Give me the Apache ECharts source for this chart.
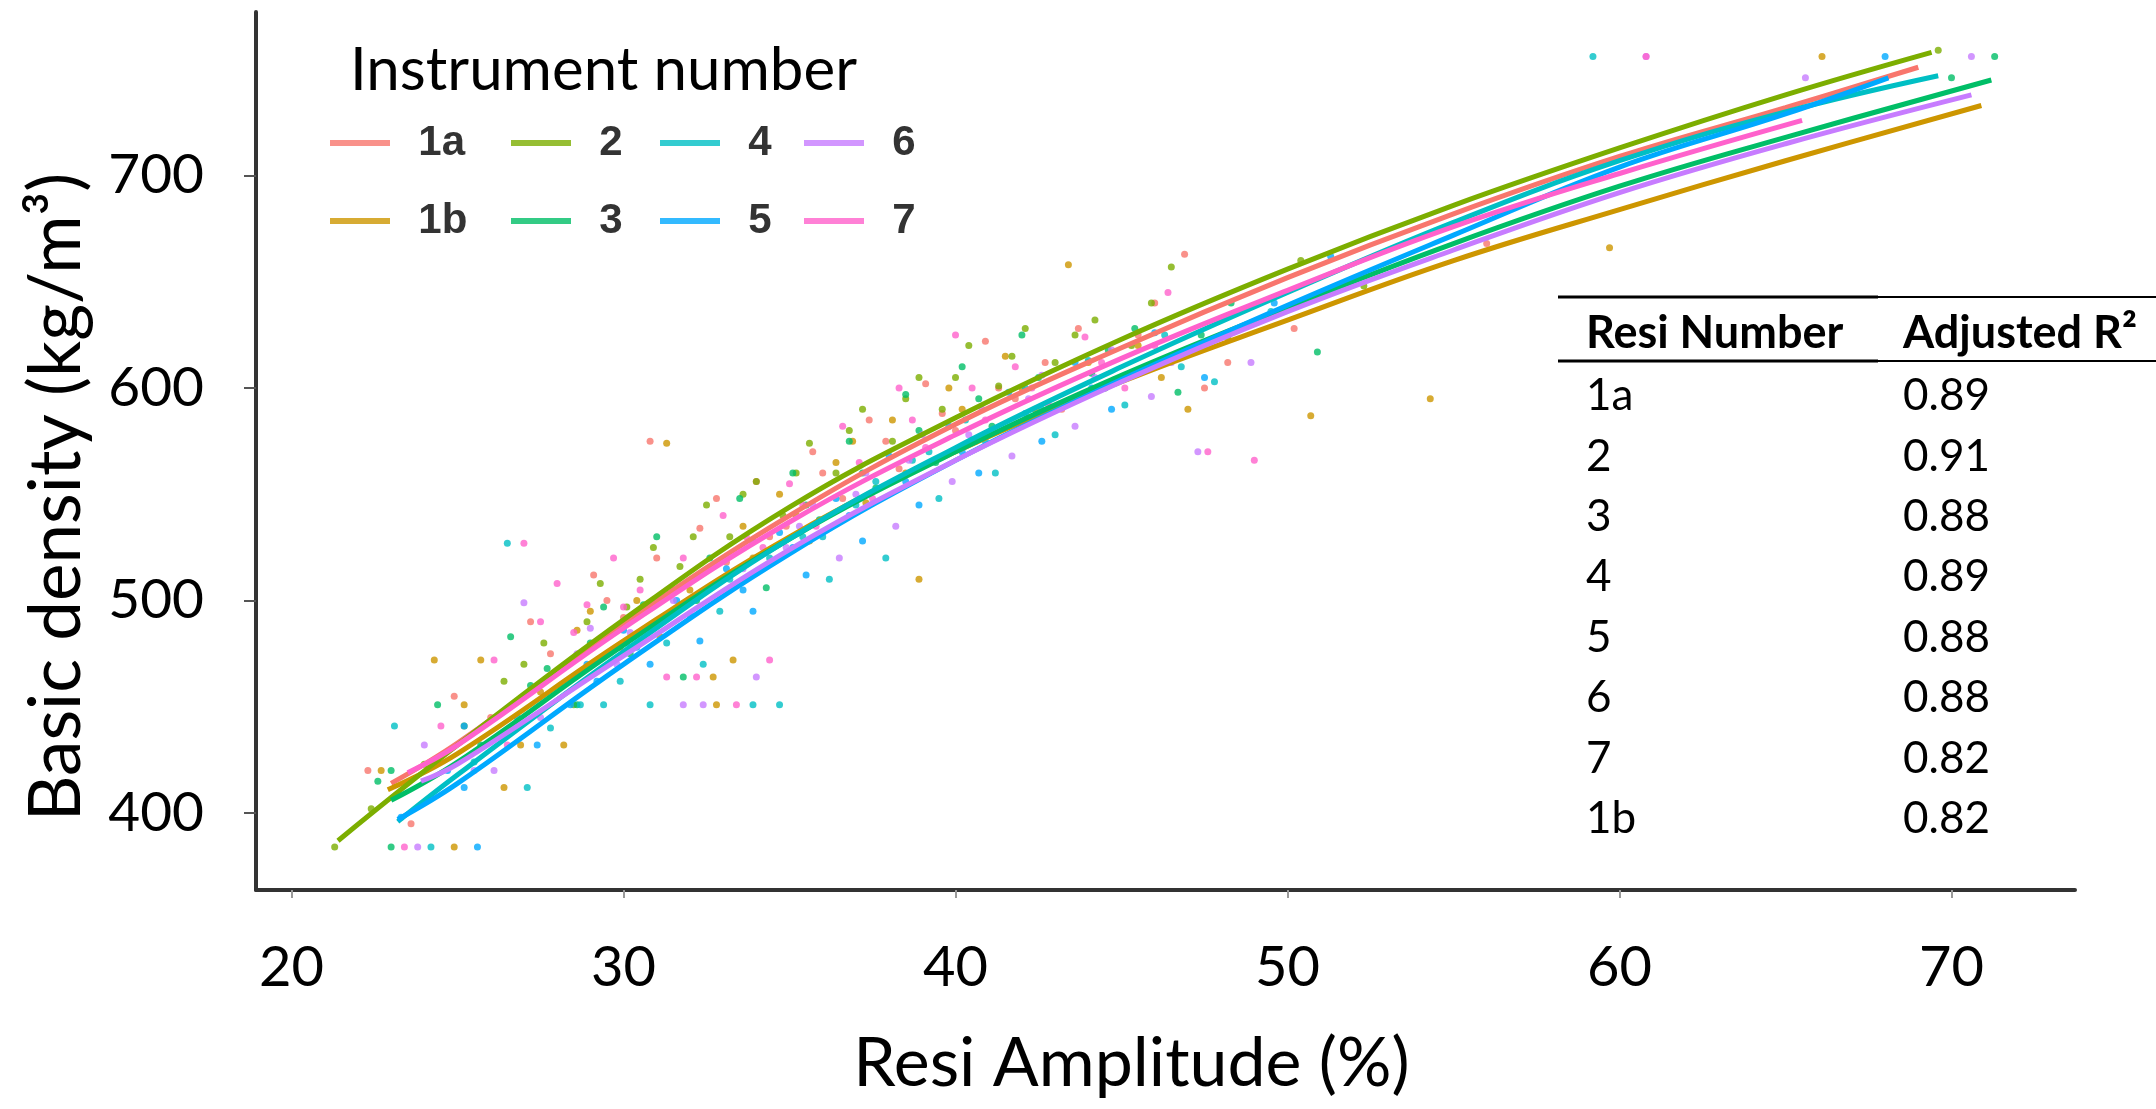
<!DOCTYPE html>
<html><head><meta charset="utf-8">
<script src="https://cdn.jsdelivr.net/npm/echarts@6/dist/echarts.min.js"></script>
<style>html,body{margin:0;padding:0;background:#fff}#c{width:2156px;height:1109px}</style>
</head><body><div id="c"></div>
<script>
// ---------- data ----------
const instruments = ['1a', '1b', '2', '3', '4', '5', '6', '7'];
const xTicks = [20, 30, 40, 50, 60, 70];
const yTicks = [400, 500, 600, 700];

// fitted curves (Resi amplitude %, basic density kg/m3)
const fit_1a = [[23.0,414],[25,433],[30,489],[35,540],[40,583],[45,619],[50,652],[55,682],[60,709],[65,732],[69.0,751]];
const fit_1b = [[22.9,411],[25,428],[30,481],[35,530],[40,570],[45,603],[50,632],[55,660],[60,684],[65,707],[70.9,733]];
const fit_2  = [[21.4,387],[25,432],[30,491],[35,544],[40,586],[45,623],[50,656],[55,686],[60,713],[65,738],[69.4,758]];
const fit_3  = [[23.0,406],[25,424],[30,479],[35,529],[40,570],[45,606],[50,638],[55,668],[60,695],[65,718],[71.2,745]];
const fit_4  = [[23.2,396],[25,418],[30,476],[35,529],[40,572],[45,610],[50,645],[55,678],[60,707],[65,730],[69.6,747]];
const fit_5  = [[23.2,397],[25,414],[30,470],[35,522],[40,566],[45,604],[50,639],[55,672],[60,704],[65,729],[68.1,746]];
const fit_6  = [[23.9,415],[25,423],[30,474],[35,524],[40,566],[45,603],[50,636],[55,665],[60,692],[65,715],[70.6,738]];
const fit_7  = [[23.5,419],[25,432],[30,487],[35,537],[40,578],[45,614],[50,646],[55,676],[60,701],[65.5,726]];

// observations
const pts_1a = [[22.3,420],[23.6,395],[24.9,455],[26.0,445],[27.2,490],[27.8,475],[28.3,470],[29.1,512],[29.5,500],[30.0,492],[30.8,575],[31.0,520],[31.5,505],[32.3,534],[32.8,548],[33.1,518],[34.0,556],[34.4,530],[34.9,535],[35.7,570],[36.0,560],[36.6,548],[37.4,585],[37.9,575],[38.3,562],[39.1,602],[39.6,588],[40.0,580],[40.9,622],[41.3,600],[41.8,595],[42.7,612],[43.2,590],[43.7,628],[44.8,604],[45.5,625],[46.0,640],[46.9,663],[47.5,600],[48.2,612],[50.2,628],[56.0,668]];
const pts_1b = [[22.7,420],[24.3,472],[24.9,384],[25.2,451],[25.7,472],[26.4,412],[26.9,432],[27.5,457],[28.2,432],[28.6,486],[29.0,495],[29.9,478],[30.4,500],[31.1,483],[31.3,574],[32.0,505],[32.7,464],[32.8,451],[33.3,472],[33.6,535],[33.9,520],[34.7,550],[35.2,540],[35.6,528],[36.4,565],[36.9,575],[37.3,546],[38.1,585],[38.5,560],[38.9,510],[39.8,600],[40.2,590],[40.6,575],[41.5,615],[42.0,600],[42.4,590],[43.4,658],[44.0,612],[44.5,600],[45.5,620],[46.2,605],[47.0,590],[50.7,587],[54.3,595],[59.7,666],[66.1,756]];
const pts_2  = [[21.3,384],[22.4,402],[24.0,423],[25.2,441],[26.4,462],[27.0,470],[27.6,480],[28.5,451],[28.9,490],[29.3,508],[30.1,497],[30.5,510],[30.9,525],[31.7,516],[32.1,530],[32.5,545],[33.2,530],[33.6,550],[34.0,556],[34.8,540],[35.2,560],[35.6,574],[36.4,560],[36.8,580],[37.2,590],[38.1,575],[38.5,595],[38.9,605],[39.6,590],[40.0,605],[40.4,620],[41.3,601],[41.7,615],[42.1,628],[43.0,612],[43.6,625],[44.2,632],[45.3,620],[45.9,640],[46.5,657],[48.2,624],[50.4,660],[52.3,648],[69.6,759]];
const pts_3  = [[22.6,415],[23.0,384],[23.0,420],[24.4,451],[25.7,432],[26.6,483],[27.2,460],[27.7,468],[28.6,451],[29.0,480],[29.4,497],[30.2,475],[30.6,498],[31.0,530],[31.8,464],[32.2,500],[32.6,520],[33.5,548],[33.9,528],[34.3,506],[35.1,560],[35.5,545],[35.9,538],[36.8,575],[37.2,560],[37.6,553],[38.5,597],[38.9,580],[39.4,565],[40.2,610],[40.7,595],[41.1,582],[42.0,625],[42.5,605],[43.0,590],[44.1,607],[44.6,618],[45.4,628],[46.7,598],[47.4,625],[48.3,640],[50.9,617],[70.0,746],[71.3,756]];
const pts_4  = [[23.1,441],[24.2,384],[25.5,424],[26.5,527],[27.1,412],[27.8,440],[28.7,451],[29.4,451],[29.9,462],[30.2,478],[30.8,451],[31.3,480],[31.6,495],[32.4,470],[32.9,495],[33.2,510],[33.9,451],[34.4,520],[34.7,451],[35.4,530],[36.0,530],[36.2,510],[37.0,545],[37.6,556],[37.9,520],[38.7,566],[39.2,570],[39.5,548],[40.3,585],[40.9,575],[41.2,560],[42.1,600],[42.6,590],[43.0,578],[44.0,613],[44.5,600],[45.1,592],[46.3,625],[46.8,610],[47.8,603],[49.5,636],[59.2,756]];
const pts_5  = [[23.3,398],[24.7,420],[25.2,441],[25.2,412],[25.6,384],[26.8,445],[27.4,432],[28.4,451],[28.9,470],[29.2,462],[30.0,486],[30.4,478],[30.8,470],[31.6,500],[32.0,493],[32.3,481],[33.1,515],[33.6,505],[33.9,495],[34.7,532],[35.1,525],[35.5,512],[36.4,548],[36.8,540],[37.2,528],[38.0,568],[38.5,556],[38.9,545],[39.8,582],[40.2,570],[40.7,560],[41.6,598],[42.1,588],[42.6,575],[43.6,612],[44.1,600],[44.7,590],[46.0,626],[46.6,615],[47.5,605],[49.6,640],[51.3,662],[68.0,756]];
const pts_6  = [[23.8,384],[24.0,432],[25.5,420],[26.1,420],[27.0,499],[27.5,445],[28.1,460],[28.6,475],[29.0,487],[29.8,470],[30.2,485],[30.6,495],[31.5,500],[31.8,451],[32.4,451],[33.2,505],[33.6,515],[34.0,464],[34.9,525],[35.3,535],[35.7,545],[36.5,520],[37.0,550],[37.3,560],[38.2,535],[38.6,566],[39.0,578],[39.9,556],[40.4,578],[40.8,590],[41.7,568],[42.2,595],[42.6,606],[43.6,582],[44.2,605],[44.7,618],[45.9,596],[46.5,612],[47.3,570],[48.9,612],[60.8,756],[65.6,746],[70.6,756]];
const pts_7  = [[23.4,384],[24.5,441],[26.1,472],[26.5,432],[27.0,527],[27.5,490],[28.0,508],[28.5,485],[28.9,498],[29.7,520],[30.0,497],[30.5,505],[31.3,464],[31.8,520],[32.2,464],[33.0,540],[33.4,451],[33.7,530],[34.2,525],[34.4,472],[35.0,555],[35.4,545],[35.8,535],[36.6,582],[37.1,565],[37.5,548],[38.3,600],[38.7,585],[39.1,572],[40.0,625],[40.5,600],[40.9,585],[41.8,610],[42.3,600],[42.8,592],[43.9,624],[44.4,612],[45.1,600],[46.0,620],[46.4,645],[47.6,570],[49.0,566],[60.8,756]];

// adjusted R2 table
const tableNumbers = ['1a', '2', '3', '4', '5', '6', '7', '1b'];
const tableR2 = [0.89, 0.91, 0.88, 0.89, 0.88, 0.88, 0.82, 0.82];

// legend columns (ggplot-style, filled column by column)
const legendColumns = [['1a', '1b'], ['2', '3'], ['4', '5'], ['6', '7']];

// ---------- styles ----------
const seriesColors = ['#F8766D', '#CD9600', '#7CAE00', '#00BE67', '#00BFC4', '#00A9FF', '#C77CFF', '#FF61CC'];
const legendColumnLeft = [330, 511, 660, 804];
const fits = {'1a': fit_1a, '1b': fit_1b, '2': fit_2, '3': fit_3, '4': fit_4, '5': fit_5, '6': fit_6, '7': fit_7};
const pts  = {'1a': pts_1a, '1b': pts_1b, '2': pts_2, '3': pts_3, '4': pts_4, '5': pts_5, '6': pts_6, '7': pts_7};

const series = [];
instruments.forEach((name, i) => {
  series.push({
    name, type: 'scatter', data: pts[name], symbolSize: 7, z: 2,
    itemStyle: { color: seriesColors[i] }
  });
});
instruments.forEach((name, i) => {
  series.push({
    name, type: 'line', data: fits[name], smooth: 0.4, showSymbol: false, z: 3,
    lineStyle: { width: 5, color: seriesColors[i] },
    itemStyle: { color: seriesColors[i] }
  });
});

const legends = legendColumns.map((col, k) => ({
  data: col, orient: 'vertical', left: legendColumnLeft[k], top: 122, padding: 0, icon: 'rect',
  itemWidth: 60, itemHeight: 6, itemGap: 36,
  formatter: '  {name}',
  textStyle: { fontFamily: 'Liberation Sans', fontSize: 42, fontWeight: 'bold', color: '#333' }
}));

const graphics = [
  { type: 'line', shape: { x1: 1558, y1: 297, x2: 1878, y2: 297 }, style: { stroke: '#000', lineWidth: 3 } },
  { type: 'line', shape: { x1: 1878, y1: 297, x2: 2156, y2: 297 }, style: { stroke: '#000', lineWidth: 2 } },
  { type: 'line', shape: { x1: 1558, y1: 361, x2: 1878, y2: 361 }, style: { stroke: '#000', lineWidth: 3 } },
  { type: 'line', shape: { x1: 1878, y1: 361, x2: 2156, y2: 361 }, style: { stroke: '#000', lineWidth: 2 } },
  { type: 'text', x: 1586, y: 333, style: { text: 'Resi Number', font: 'bold 45px Lato', fill: '#000', align: 'left', verticalAlign: 'middle' } },
  { type: 'text', x: 1903, y: 333, style: { text: 'Adjusted R²', font: 'bold 45px Lato', fill: '#000', align: 'left', verticalAlign: 'middle' } }
];
tableNumbers.forEach((n, i) => {
  const y = 396 + 60.4 * i;
  graphics.push({ type: 'text', x: 1586, y, style: { text: n, font: '44px Lato', fill: '#000', align: 'left', verticalAlign: 'middle' } });
  graphics.push({ type: 'text', x: 1903, y, style: { text: tableR2[i].toFixed(2), font: '44px Lato', fill: '#000', align: 'left', verticalAlign: 'middle' } });
});

const chart = echarts.init(document.getElementById('c'), null, { renderer: 'canvas' });
chart.setOption({
  backgroundColor: '#fff',
  animation: false,
  title: {
    text: 'Instrument number', left: 350, top: 41, padding: 0,
    textStyle: { fontFamily: 'Lato', fontSize: 60, fontWeight: 'normal', color: '#000' }
  },
  legend: legends,
  grid: { left: 256, right: 81, top: 12, bottom: 219, outerBoundsMode: 'none', containLabel: false },
  xAxis: {
    type: 'value', min: 18.93, max: 73.72,
    axisLine: { show: true, onZero: false, lineStyle: { color: '#333', width: 4 } },
    axisTick: { show: true, customValues: xTicks, length: 8, lineStyle: { color: '#999', width: 2 } },
    axisLabel: { customValues: xTicks, margin: 50, fontFamily: 'Lato', fontSize: 56, color: '#000' },
    splitLine: { show: false },
    name: 'Resi Amplitude (%)', nameLocation: 'middle', nameGap: 140, nameMoveOverlap: false,
    nameTextStyle: { fontFamily: 'Lato', fontSize: 68, color: '#000', padding: [0, 68, 0, 0] }
  },
  yAxis: {
    type: 'value', min: 363.8, max: 777,
    axisLine: { show: true, onZero: false, lineStyle: { color: '#333', width: 4 } },
    axisTick: { show: true, customValues: yTicks, length: 12, lineStyle: { color: '#555', width: 2 } },
    axisLabel: { customValues: yTicks, margin: 52, fontFamily: 'Lato', fontSize: 55, color: '#000' },
    splitLine: { show: false },
    name: 'Basic density (kg/m³)', nameLocation: 'middle', nameGap: 163, nameMoveOverlap: false,
    nameTextStyle: { fontFamily: 'Lato', fontSize: 71, color: '#000', padding: [0, 92, 0, 0] }
  },
  graphic: { elements: graphics },
  series
});
</script>
</body></html>
